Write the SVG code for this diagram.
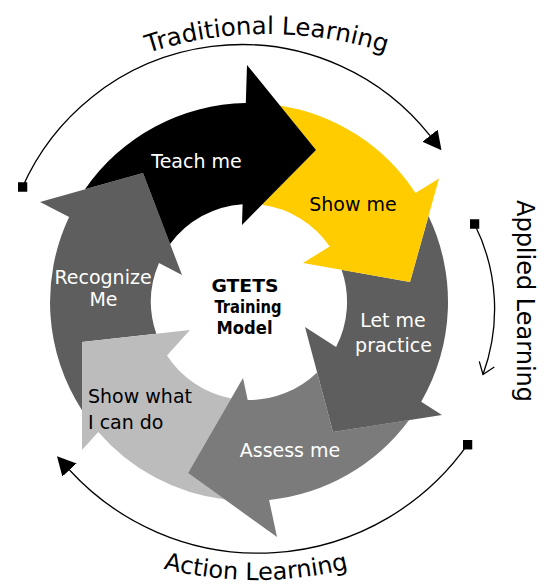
<svg xmlns="http://www.w3.org/2000/svg" width="554" height="586" viewBox="0 0 554 586">
<style>
.lbl{font-family:"DejaVu Sans",sans-serif;font-size:19px;text-anchor:middle}
.w{fill:#fff}
.k{fill:#000}
.ctr{font-family:"DejaVu Sans Condensed","DejaVu Sans",sans-serif;font-size:18.5px;font-weight:bold;text-anchor:middle;fill:#000}
.big{font-family:"DejaVu Sans",sans-serif;font-size:24px;fill:#000}
.arc{fill:none;stroke:#000;stroke-width:1.3}
</style>
<defs>
<marker id="sq" markerUnits="userSpaceOnUse" markerWidth="10" markerHeight="10" refX="5" refY="5">
<rect x="0.25" y="0.25" width="9.5" height="9.5" fill="#000"/>
</marker>
<marker id="tri" markerUnits="userSpaceOnUse" markerWidth="20" markerHeight="20" refX="0" refY="10" orient="auto">
<path d="M0,0.3 L18.5,10 L0,19.7 Z" fill="#000"/>
</marker>
<marker id="chev" markerUnits="userSpaceOnUse" viewBox="-14 -10 16 20" markerWidth="16" markerHeight="20" refX="0" refY="0" orient="auto">
<path d="M-11,-8 L0,0 L-11,8" fill="none" stroke="#000" stroke-width="1.3"/>
</marker>
<path id="tpTrad" d="M74,85.7 A386,386 0 0 1 460,85.7"/>
<path id="tpAct" d="M62,528 A388,388 0 0 0 450,528"/>
</defs>

<g id="recognize">
<path fill="#5e5e5e" d="M82,410.2 A199,199 0 0 1 69.1,217 L40,202 L143,173 L182,275 L159,263 A98,98 0 0 0 156.3,333.7 L82,342 Z"/>
<text class="lbl w" x="103" y="284">Recognize</text>
<text class="lbl w" x="103.5" y="306">Me</text>
</g>
<g id="show-what">
<path fill="#bcbcbc" d="M224.9,499.5 A199,199 0 0 1 98.3,431.9 L82,450 L82,342 L190,330 L167,355.6 A98,98 0 0 0 231.2,398.4 L188,473 Z"/>
<text class="lbl k" x="88" y="403" style="text-anchor:start">Show what</text>
<text class="lbl k" x="88" y="429" style="text-anchor:start">I can do</text>
</g>
<g id="assess">
<path fill="#7b7b7b" d="M409.1,420.1 A199,199 0 0 1 269.1,500 L277,537 L188,473 L243,378 L247.7,400 A98,98 0 0 0 317.1,372.4 L333,432 Z"/>
<text class="lbl w" x="290" y="457">Assess me</text>
</g>
<g id="practice">
<path fill="#5e5e5e" d="M428.5,216 A199,199 0 0 1 421.2,401.7 L442,415 L333,432 L305,327 L336.1,347 A98,98 0 0 0 341.6,269.8 L410,282 Z"/>
<text class="lbl w" x="393" y="327">Let me</text>
<text class="lbl w" x="393.5" y="352">practice</text>
</g>
<g id="show-me">
<path fill="#ffcc00" d="M279.8,105.4 A199,199 0 0 1 415.5,193.1 L439,178.5 L410,282 L303,263 L329.7,246.4 A98,98 0 0 0 261.9,204.8 L316,150 Z"/>
<text class="lbl k" x="353" y="211">Show me</text>
</g>
<g id="teach">
<path fill="#000" d="M85,189.3 A199,199 0 0 1 245.8,103 L247,65 L316,150 L242,225 L242.6,204.2 A98,98 0 0 0 170.1,243.9 L143,173 Z"/>
<text class="lbl w" x="196.5" y="168">Teach me</text>
</g>
<g id="center">
<text class="ctr" x="245" y="291.5" textLength="67" lengthAdjust="spacingAndGlyphs">GTETS</text>
<text class="ctr" x="248" y="312.5" textLength="67" lengthAdjust="spacingAndGlyphs">Training</text>
<text class="ctr" x="244.5" y="333.5" textLength="56" lengthAdjust="spacingAndGlyphs">Model</text>
</g>

<g id="connectors">
<path class="arc" d="M22.5,187 A240,240 0 0 1 430,135.7" marker-start="url(#sq)" marker-end="url(#tri)"/>
<path class="arc" d="M474.5,224 A190,190 0 0 1 483,374.5" marker-start="url(#sq)" marker-end="url(#chev)"/>
<path class="arc" d="M467.5,444.7 A256,256 0 0 1 69.5,470" marker-start="url(#sq)" marker-end="url(#tri)"/>
</g>

<g id="labels">
<text class="big" style="font-size:24.5px"><textPath href="#tpTrad" startOffset="50%" text-anchor="middle">Traditional Learning</textPath></text>
<text class="big" transform="translate(517,301) rotate(90)" text-anchor="middle">Applied Learning</text>
<text class="big"><textPath href="#tpAct" startOffset="50%" text-anchor="middle">Action Learning</textPath></text>
</g>
</svg>
